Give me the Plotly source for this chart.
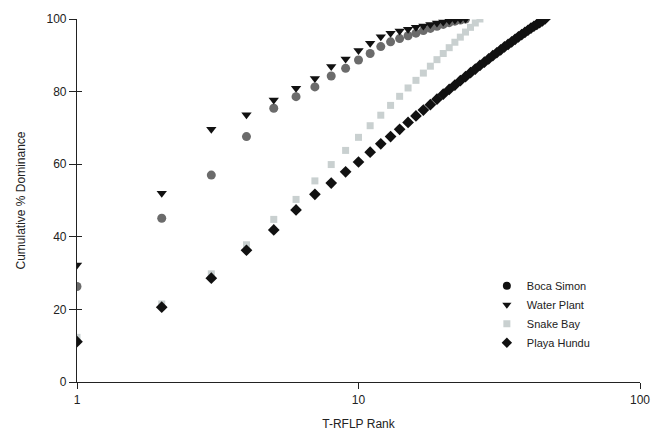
import plotly.graph_objects as go

# ---- data ----
boca_simon = [26.3, 45.1, 57.0, 67.6, 75.4, 78.6, 81.3, 84.3, 86.4, 88.7,
              90.5, 92.4, 93.7, 94.6, 95.4, 96.1, 96.8, 97.4, 98.0, 98.5,
              99.0, 99.4, 99.7, 100.0]
water_plant = [32.2, 52.0, 69.6, 73.6, 77.7, 80.9, 83.6, 86.9, 89.0, 91.3,
               93.3, 95.1, 96.1, 96.7, 97.2, 97.7, 98.1, 98.5, 98.9, 99.2,
               99.5, 99.7, 99.9, 100.0]
snake_bay = [12.3, 21.5, 29.8, 37.8, 44.8, 50.3, 55.4, 59.9, 63.8, 67.4,
             70.6, 73.5, 76.2, 78.7, 81.0, 83.1, 85.1, 87.0, 88.8, 90.5,
             92.1, 93.6, 95.0, 96.4, 97.7, 98.9, 100.0]
playa_hundu = [11.1, 20.6, 28.6, 36.3, 41.9, 47.4, 51.7, 54.8, 57.9, 60.6,
               63.3, 65.6, 67.6, 69.6, 71.5, 73.3, 74.9, 76.4, 77.9, 79.3,
               80.6, 81.8, 83.0, 84.1, 85.2, 86.2, 87.2, 88.1, 89.0, 89.9,
               90.7, 91.5, 92.3, 93.0, 93.7, 94.4, 95.1, 95.7, 96.3, 96.9,
               97.5, 98.0, 98.5, 99.0, 99.5, 100.0]
x_ticks = [1, 10, 100]
x_tick_labels = ["1", "10", "100"]
y_ticks = [0, 20, 40, 60, 80, 100]

series = [
    ("Boca Simon", boca_simon, "circle", "#6b6b6b", "#111111", 9, 8),
    ("Water Plant", water_plant, "triangle-down", "#111111", "#111111", 9, 8),
    ("Snake Bay", snake_bay, "square", "#c9d0d0", "#c9d0d0", 7, 7),
    ("Playa Hundu", playa_hundu, "diamond", "#111111", "#111111", 9, 8),
]

fig = go.Figure()
for name, vals, sym, col, legcol, size, lsize in series:
    ranks = list(range(1, len(vals) + 1))
    fig.add_trace(go.Scatter(x=ranks, y=vals, mode="markers", name=name,
                             showlegend=False,
                             marker=dict(symbol=sym, color=col, size=size,
                                         line=dict(width=0))))
for name, vals, sym, col, legcol, size, lsize in series:
    fig.add_trace(go.Scatter(x=[None], y=[None], mode="markers", name=name,
                             marker=dict(symbol=sym, color=legcol, size=lsize,
                                         line=dict(width=0))))

# invisible trace on overlay axis to get inward tick marks
fig.add_trace(go.Scatter(x=[1], y=[0], yaxis="y2", mode="markers",
                         marker=dict(opacity=0), showlegend=False, hoverinfo="skip"))

fig.update_layout(
    width=667, height=442,
    margin=dict(l=77, r=27, t=19, b=60),
    paper_bgcolor="white", plot_bgcolor="white",
    font=dict(family="Liberation Sans, Arial, sans-serif", size=12, color="#222222"),
    xaxis=dict(type="log", range=[0, 2], tickvals=x_ticks, ticktext=x_tick_labels,
               showgrid=False, zeroline=False, showline=True, linecolor="#222222",
               linewidth=1.2, ticks="outside", ticklen=6, tickcolor="#222222",
               tickfont=dict(size=12),
               title=dict(text="T-RFLP Rank", font=dict(size=12), standoff=14)),
    yaxis=dict(range=[0, 100], tickvals=y_ticks, showgrid=False, zeroline=False,
               showline=True, linecolor="#222222", linewidth=1.2,
               ticks="outside", ticklen=7, tickcolor="#222222",
               tickfont=dict(size=12),
               title=dict(text="Cumulative % Dominance", font=dict(size=12), standoff=18)),
    yaxis2=dict(range=[0, 100], overlaying="y", side="left", tickvals=y_ticks,
                showticklabels=False, ticks="inside", ticklen=5, tickcolor="#222222",
                showgrid=False, zeroline=False, showline=False),
    legend=dict(x=0.728, y=0.305, xanchor="left", yanchor="top",
                bgcolor="rgba(255,255,255,0)", font=dict(size=11),
                itemsizing="trace", itemwidth=30, tracegroupgap=0),
)

fig.write_html("out.html")
